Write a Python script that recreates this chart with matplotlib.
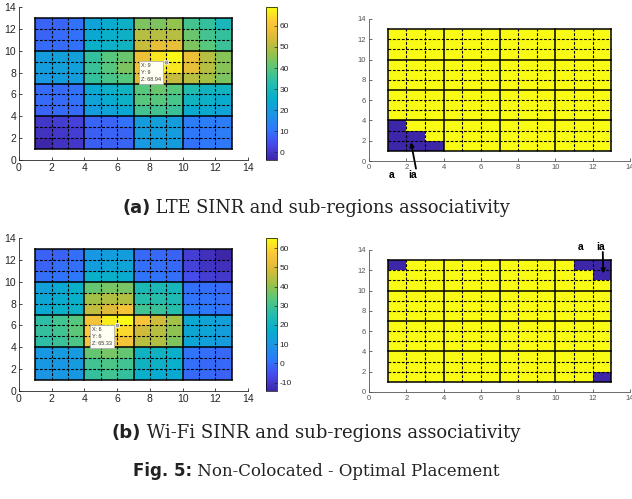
import numpy as np
import matplotlib
matplotlib.use('Agg')
import matplotlib.pyplot as plt
from matplotlib.colors import LinearSegmentedColormap, ListedColormap

plt.rcParams['font.family'] = ['Liberation Sans', 'DejaVu Sans']
plt.rcParams['axes.unicode_minus'] = False

# ── Data (rows listed from top y=12..13 down to y=1..2, columns x=1..12) ──
lte_sinr = [
    [8, 8, 10, 22, 25, 27, 44, 44, 46, 37, 35, 30],
    [8, 9, 10, 24, 26, 27, 50, 50, 50, 42, 37, 35],
    [9, 9, 10, 26, 27, 28, 52, 57, 57, 44, 40, 36],
    [20, 21, 21, 35, 40, 42, 58, 66, 68.94, 58, 50, 45],
    [20, 21, 21, 36, 40, 44, 58, 67, 66, 57, 50, 45],
    [19, 20, 20, 35, 38, 40, 55, 57, 52, 50, 48, 44],
    [9, 9, 10, 24, 27, 28, 40, 42, 40, 32, 28, 28],
    [9, 9, 10, 22, 25, 27, 40, 40, 38, 28, 27, 25],
    [8, 9, 9, 20, 22, 24, 37, 37, 36, 25, 24, 22],
    [0, 1, 2, 8, 8, 10, 20, 21, 20, 12, 12, 12],
    [-1, 0, 1, 7, 8, 8, 20, 20, 20, 11, 11, 12],
    [-3.6, -1, 0, 7, 7, 8, 19, 20, 20, 10, 11, 11],
]
wifi_sinr = [
    [-2, -2, 0, 10, 12, 12, -1, -1, -2, -9, -12, -14.4],
    [-2, 0, 0, 12, 14, 14, 0, 0, -1, -8, -11, -12],
    [0, 1, 2, 18, 18, 17, 1, 1, 0, -6, -9, -10],
    [13, 16, 18, 35, 37, 37, 23, 23, 22, 0, 0, -1],
    [15, 17, 18, 42, 44, 44, 26, 26, 24, 1, 1, 0],
    [16, 18, 19, 46, 50, 55, 30, 29, 26, 3, 2, 1],
    [27, 30, 33, 55, 63, 65.33, 56, 48, 42, 16, 14, 13],
    [28, 30, 34, 57, 62, 60, 48, 45, 40, 15, 14, 12],
    [27, 29, 32, 55, 55, 55, 45, 44, 38, 14, 13, 11],
    [10, 11, 11, 35, 37, 35, 20, 20, 18, 1, 0, -1],
    [10, 10, 11, 30, 32, 30, 20, 19, 18, 0, -1, -1],
    [9, 10, 10, 28, 30, 28, 18, 17, 16, -1, -1, -2],
]
lte_assoc = [
    [1] * 12, [1] * 12, [1] * 12, [1] * 12, [1] * 12, [1] * 12,
    [1] * 12, [1] * 12, [1] * 12,
    [0, 1, 1, 1, 1, 1, 1, 1, 1, 1, 1, 1],
    [0, 0, 1, 1, 1, 1, 1, 1, 1, 1, 1, 1],
    [0, 0, 0, 1, 1, 1, 1, 1, 1, 1, 1, 1],
]
wifi_assoc = [
    [0, 1, 1, 1, 1, 1, 1, 1, 1, 1, 0, 0],
    [1, 1, 1, 1, 1, 1, 1, 1, 1, 1, 1, 0],
    [1] * 12, [1] * 12, [1] * 12, [1] * 12, [1] * 12, [1] * 12,
    [1] * 12, [1] * 12, [1] * 12,
    [1, 1, 1, 1, 1, 1, 1, 1, 1, 1, 1, 0],
]
lte_tip = (9, 9, 68.94)
wifi_tip = (6, 6, 65.33)
lte_ticks = list(range(0, 61, 10))
wifi_ticks = list(range(-10, 61, 10))

edges = np.arange(1, 14)

# approximate MATLAB parula
parula = LinearSegmentedColormap.from_list('parula', [
    (0.00, (0.2422, 0.1504, 0.6603)),
    (0.10, (0.2780, 0.2900, 0.9200)),
    (0.20, (0.1800, 0.4700, 0.9900)),
    (0.30, (0.1000, 0.5900, 0.8900)),
    (0.40, (0.0300, 0.6800, 0.8000)),
    (0.50, (0.1400, 0.7400, 0.6800)),
    (0.60, (0.3400, 0.7800, 0.4900)),
    (0.70, (0.6100, 0.7600, 0.2800)),
    (0.80, (0.8600, 0.7300, 0.2200)),
    (0.90, (0.9900, 0.7800, 0.2200)),
    (1.00, (0.9769, 0.9839, 0.0805)),
])
binary_map = ListedColormap([(0.2422, 0.1504, 0.6603), (0.9769, 0.9839, 0.0805)])

W, H = 632, 499
fig = plt.figure(figsize=(W / 100, H / 100), dpi=100)


def px_axes(x0, y0, x1, y1):
    # pixel box (top-left origin) -> figure axes
    return fig.add_axes([x0 / W, 1 - y1 / H, (x1 - x0) / W, (y1 - y0) / H])


def style_axes(ax, fs, col='#262626'):
    ax.set_xlim(0, 14)
    ax.set_ylim(0, 14)
    ax.set_xticks(range(0, 15, 2))
    ax.set_yticks(range(0, 15, 2))
    for s in ['top', 'right']:
        ax.spines[s].set_visible(False)
    for s in ['left', 'bottom']:
        ax.spines[s].set_linewidth(0.6)
        ax.spines[s].set_color(col)
    ax.tick_params(direction='in', length=2.5, width=0.6, labelsize=fs,
                   colors=col, pad=2)


def draw_grid(ax):
    for v in edges:
        if (v - 1) % 3 == 0:
            kw = dict(color='black', lw=1.1, ls='-')
        else:
            kw = dict(color='black', lw=0.8, ls=(0, (2.5, 1.5)))
        ax.plot([v, v], [1, 13], **kw, zorder=3)
        ax.plot([1, 13], [v, v], **kw, zorder=3)


def heat(ax, cax, data, ticks, tip):
    z = np.flipud(np.array(data, dtype=float))
    m = ax.pcolormesh(edges, edges, z, cmap=parula, shading='flat', zorder=1)
    draw_grid(ax)
    style_axes(ax, 7.5)
    cb = fig.colorbar(m, cax=cax, ticks=ticks)
    cb.outline.set_linewidth(0.5)
    cax.tick_params(direction='in', length=2, width=0.5, labelsize=6,
                    colors='#262626', pad=2)
    x, y, val = tip
    ax.plot(x, y, 's', ms=3.5, color='#a0a0a0', mec='white', mew=0.5, zorder=5)
    ax.text(x - 1.55, y - 0.15, f'X: {x}\nY: {y}\nZ: {val:.2f}', fontsize=4,
            color='#333333', ha='left', va='top', linespacing=1.5, zorder=6,
            bbox=dict(boxstyle='square,pad=0.35', fc='#fffff4', ec='#b0b0b0', lw=0.6))


def assoc(ax, data):
    z = np.flipud(np.array(data, dtype=float))
    ax.pcolormesh(edges, edges, z, cmap=binary_map, vmin=0, vmax=1,
                  shading='flat', zorder=1)
    draw_grid(ax)
    style_axes(ax, 5.5, col='#555555')


# (a) LTE
ax1 = px_axes(19, 7, 248, 160)
cax1 = px_axes(266, 7, 277, 160)
heat(ax1, cax1, lte_sinr, lte_ticks, lte_tip)
ax2 = px_axes(369, 19, 630, 161)
assoc(ax2, lte_assoc)
ax2.text(1.22, -1.4, 'a', fontsize=7.5, fontweight='bold', ha='center', va='center',
         clip_on=False)
ax2.text(2.35, -1.4, 'ia', fontsize=7.5, fontweight='bold', ha='center', va='center',
         clip_on=False)
ax2.annotate('', xy=(2.25, 1.85), xytext=(2.52, -0.75), annotation_clip=False,
             arrowprops=dict(arrowstyle='-|>', color='black', lw=1.3,
                             mutation_scale=6, shrinkA=0, shrinkB=0), zorder=7)

# (b) Wi-Fi
ax3 = px_axes(19, 238, 248, 391)
cax3 = px_axes(266, 238, 277, 391)
heat(ax3, cax3, wifi_sinr, wifi_ticks, wifi_tip)
ax4 = px_axes(369, 250, 630, 392)
assoc(ax4, wifi_assoc)
ax4.text(11.36, 14.3, 'a', fontsize=7.5, fontweight='bold', ha='center', va='center',
         clip_on=False)
ax4.text(12.4, 14.3, 'ia', fontsize=7.5, fontweight='bold', ha='center', va='center',
         clip_on=False)
ax4.annotate('', xy=(12.57, 11.68), xytext=(12.54, 13.8), annotation_clip=False,
             arrowprops=dict(arrowstyle='-|>', color='black', lw=1.3,
                             mutation_scale=6, shrinkA=0, shrinkB=0), zorder=7)

# ── Captions: bold sans label + serif text, centred as one line ──
renderer = fig.canvas.get_renderer()


def caption(label, rest, yc, size):
    t1 = fig.text(0, yc, label, fontsize=size, fontweight='bold',
                  family='DejaVu Sans', va='center', color='#222222')
    t2 = fig.text(0, yc, ' ' + rest, fontsize=size, family='DejaVu Serif',
                  va='center', color='#222222')
    w1 = t1.get_window_extent(renderer).width
    w2 = t2.get_window_extent(renderer).width
    x0 = (W - w1 - w2) / 2
    t1.set_x(x0 / W)
    t2.set_x((x0 + w1) / W)


caption('(a)', 'LTE SINR and sub-regions associativity', 1 - 208 / H, 12.8)
caption('(b)', 'Wi-Fi SINR and sub-regions associativity', 1 - 433 / H, 13)
caption('Fig. 5:', 'Non-Colocated - Optimal Placement', 1 - 471 / H, 12)

fig.savefig('out.png', dpi=100)
